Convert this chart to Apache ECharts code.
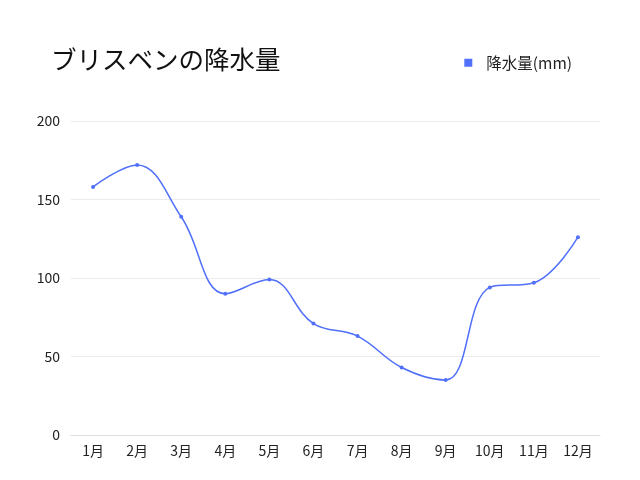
<!DOCTYPE html>
<html>
<head>
    <meta charset="UTF-8">
    <title>ブリスベンの降水量</title>
    <script src="https://cdn.jsdelivr.net/npm/echarts@6/dist/echarts.min.js"></script>
</head>
<body style="margin:0;">
    <div id="rainBox" style="width: 640px;height:480px;"></div>
    <script>
        // 月
        var months = ['1月', '2月', '3月', '4月', '5月', '6月', '7月', '8月', '9月', '10月', '11月', '12月'];
        // 降水量(mm)
        var rainfall = [158, 172, 139, 90, 99, 71, 63, 43, 35, 94, 97, 126];
        var yTicks = [0, 50, 100, 150, 200];

        var myChart = echarts.init(document.getElementById('rainBox'));
        var font = '"Noto Sans CJK JP", "Noto Sans", sans-serif';

        var option = {
            backgroundColor: '#fff',
            textStyle: { fontFamily: font },
            title: {
                text: 'ブリスベンの降水量',
                left: 46,
                top: 42,
                textStyle: { fontSize: 25.5, fontWeight: 'normal', color: '#111', fontFamily: font }
            },
            legend: {
                right: 63,
                top: 50,
                icon: 'rect',
                itemWidth: 8,
                itemHeight: 8,
                itemGap: 10,
                textStyle: { fontSize: 15.5, color: '#222', fontFamily: font, padding: [0, 0, 0, 9] },
                data: ['降水量(mm)']
            },
            grid: { left: 71, right: 40, top: 121, bottom: 45, containLabel: false },
            xAxis: {
                type: 'category',
                data: months,
                axisTick: { show: false },
                axisLine: { lineStyle: { color: '#dddddd' } },
                axisLabel: { color: '#222', fontSize: 14, margin: 9, interval: 0, fontFamily: font }
            },
            yAxis: {
                type: 'value',
                min: yTicks[0],
                max: yTicks[yTicks.length - 1],
                interval: 50,
                axisLine: { show: false },
                axisTick: { show: false },
                axisLabel: { color: '#222', fontSize: 14, margin: 11, fontFamily: font },
                splitLine: { lineStyle: { color: '#ebebeb' } }
            },
            series: [{
                name: '降水量(mm)',
                type: 'line',
                data: rainfall,
                smooth: 0.4,
                symbol: 'circle',
                symbolSize: 4,
                color: '#5070fa',
                lineStyle: { width: 1.5, color: '#5070fa' },
                itemStyle: { color: '#5070fa' }
            }]
        };
        myChart.setOption(option);
    </script>
</body>
</html>
